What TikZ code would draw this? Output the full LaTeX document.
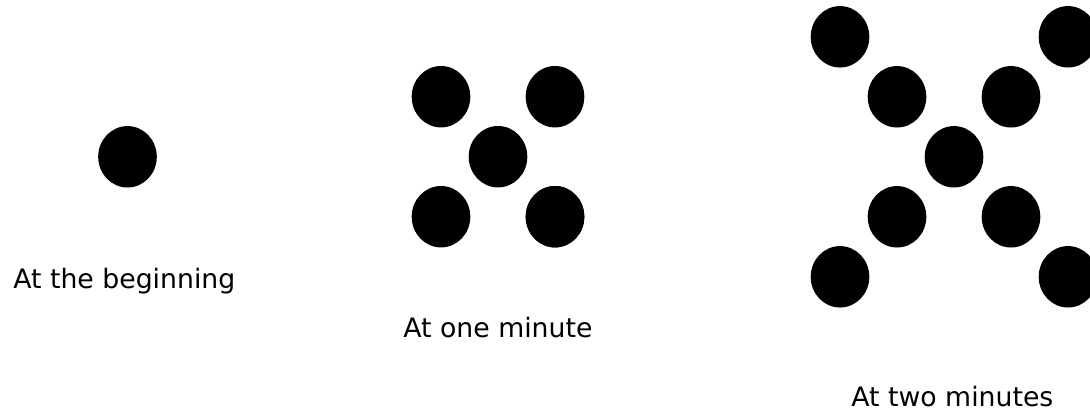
\documentclass[tikz,border=0pt]{standalone}
\usepackage{fontspec}
\setmainfont{DejaVu Sans}
\usetikzlibrary{shapes.geometric}

\begin{document}
\begin{tikzpicture}[x=0.025cm, y=-0.025cm]
    % Definición de estilos
    \tikzstyle{dot}=[ellipse, fill=black, inner sep=0pt, minimum width=1.465cm, minimum height=1.535cm]
    \tikzstyle{caption}=[anchor=base west, inner sep=0pt, font=\fontsize{19}{23}\selectfont]
    \useasboundingbox (0,0) rectangle (1090,414);
    % Al principio: un solo punto
    \node[dot] (start) at (127.5,156.8) {};
    \node[caption] (startlabel) at (13,288) {At the beginning};
    % Al minuto: cinco puntos en cruz
    \foreach \i in {0,2} {
        \node[dot] (one\i) at ({441+57*\i},{96.7+60*\i}) {};
    }
    \node[dot] (onec) at (498,156.7) {};
    \foreach \i in {0,2} {
        \node[dot] (oneb\i) at ({441+57*\i},216.7) {};
    }
    \node[dot] (onetr) at (555,96.7) {};
    \node[caption] (onelabel) at (403,337) {At one minute};
    % A los dos minutos: nueve puntos en X
    \foreach \i in {0,...,4} {
        \node[dot] (two\i) at ({840+57*\i},{36.8+60*\i}) {};
    }
    \foreach \i in {0,1,3,4} {
        \node[dot] (twob\i) at ({840+57*\i},{276.8-60*\i}) {};
    }
    \node[caption] (twolabel) at (851,406) {At two minutes};
\end{tikzpicture}
\end{document}
